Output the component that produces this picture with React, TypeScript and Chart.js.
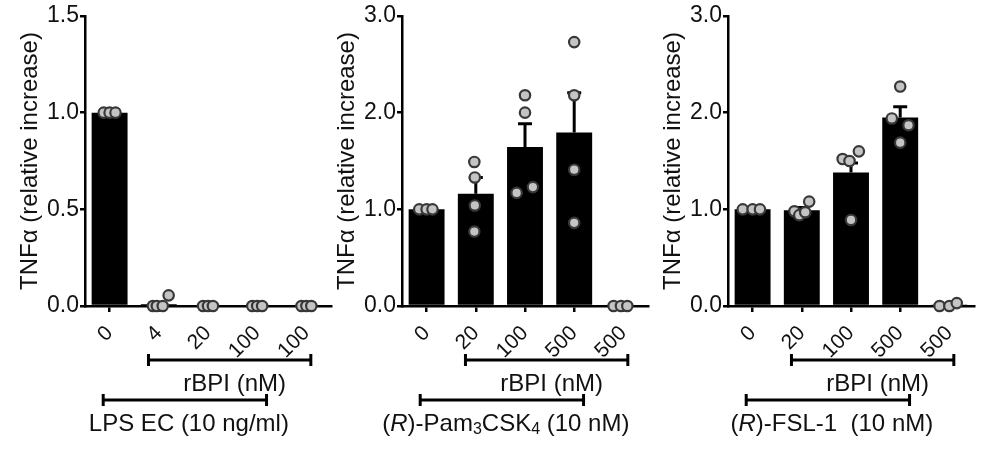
import React, { useEffect, useRef } from 'react';
import { Chart, registerables } from 'chart.js';

Chart.register(...registerables);

const FONT = "'Liberation Sans', Arial, Helvetica, sans-serif";
const TEXT = '#111111';

// ---------- data ----------
const p1Categories = ['0', '4', '20', '100', '100'];
const p1Means = [1.0, 0.01, 0, 0, 0];
const p1Sem = [0, 0, 0, 0, 0];
const p1Points = [[1.0, 1.0, 1.0], [0, 0, 0, 0.055], [0, 0, 0], [0, 0, 0], [0, 0, 0]];
const p1Jitter = [[-0.12, 0, 0.12], [-0.12, -0.04, 0.08, 0.2], [-0.1, 0, 0.1], [-0.1, 0, 0.1], [-0.1, 0, 0.1]];
const p1YTicks = [0, 0.5, 1.0, 1.5];

const p2Categories = ['0', '20', '100', '500', '500'];
const p2Means = [1.0, 1.16, 1.645, 1.795, 0];
const p2Sem = [0, 0.17, 0.24, 0.41, 0];
const p2Points = [[1, 1, 1], [1.49, 1.33, 1.04, 0.77], [2.18, 2.0, 1.17, 1.23], [2.73, 2.18, 1.41, 0.86], [0, 0, 0]];
const p2Jitter = [[-0.15, 0, 0.12], [-0.03, -0.02, -0.02, -0.03], [0, 0, -0.17, 0.16], [0, 0, 0, 0], [-0.2, -0.05, 0.08]];
const p2YTicks = [0, 1.0, 2.0, 3.0];

const p3Categories = ['0', '20', '100', '500', '500'];
const p3Means = [1.0, 0.99, 1.38, 1.95, 0.01];
const p3Sem = [0, 0.03, 0.1, 0.11, 0];
const p3Points = [[1, 1, 1], [0.98, 0.94, 0.97, 1.08], [1.52, 1.5, 1.6, 0.89], [2.27, 1.94, 1.87, 1.69], [0, 0, 0.03]];
const p3Jitter = [[-0.2, 0, 0.15], [-0.15, -0.05, 0.07, 0.15], [-0.17, -0.03, 0.16, 0], [0, -0.17, 0.17, 0], [-0.2, 0, 0.15]];
const p3YTicks = [0, 1.0, 2.0, 3.0];

const yTitle = 'TNFα (relative increase)';
const rbpiLabel = 'rBPI (nM)';
// category spans covered by the treatment brackets
const rbpiSpan = [0.79, 4.09];
const stimSpan = [-0.13, 3.19];

type Seg = { t: string; italic?: boolean; sub?: boolean };
const stim1: Seg[] = [{ t: 'LPS EC (10 ng/ml)' }];
const stim2: Seg[] = [{ t: '(' }, { t: 'R', italic: true }, { t: ')-Pam' }, { t: '3', sub: true }, { t: 'CSK' }, { t: '4', sub: true }, { t: ' (10 nM)' }];
const stim3: Seg[] = [{ t: '(' }, { t: 'R', italic: true }, { t: ')-FSL-1  (10 nM)' }];

interface Panel {
  categories: string[];
  means: number[];
  sem: number[];
  points: number[][];
  jitter: number[][];
  yTicks: number[];
  stim: Seg[];
  left: number;
}

const panels: Panel[] = [
  { categories: p1Categories, means: p1Means, sem: p1Sem, points: p1Points, jitter: p1Jitter, yTicks: p1YTicks, stim: stim1, left: 0 },
  { categories: p2Categories, means: p2Means, sem: p2Sem, points: p2Points, jitter: p2Jitter, yTicks: p2YTicks, stim: stim2, left: 317 },
  { categories: p3Categories, means: p3Means, sem: p3Sem, points: p3Points, jitter: p3Jitter, yTicks: p3YTicks, stim: stim3, left: 643 },
];

const CW = 341;
const CH = 476;
const LABEL_SIZE = 24;

function segFont(s: Seg) {
  const size = s.sub ? Math.round(LABEL_SIZE * 0.66) : LABEL_SIZE;
  return `${s.italic ? 'italic ' : ''}${size}px ${FONT}`;
}

function drawRich(ctx: CanvasRenderingContext2D, segs: Seg[], cx: number, cy: number) {
  let total = 0;
  for (const s of segs) {
    ctx.font = segFont(s);
    total += ctx.measureText(s.t).width;
  }
  let x = cx - total / 2;
  ctx.textBaseline = 'middle';
  ctx.textAlign = 'left';
  for (const s of segs) {
    ctx.font = segFont(s);
    ctx.fillText(s.t, x, cy + (s.sub ? 6 : 0));
    x += ctx.measureText(s.t).width;
  }
}

function makePlugin(p: Panel) {
  return {
    id: 'panelAnnot',
    afterDatasetDraw(chart: any, args: any) {
      if (args.index !== 0) return;
      const y = chart.scales.y;
      const ctx: CanvasRenderingContext2D = chart.ctx;
      ctx.save();
      ctx.strokeStyle = '#000';
      ctx.lineWidth = 3;
      args.meta.data.forEach((el: any, i: number) => {
        const s = p.sem[i];
        if (!s) return;
        const x = el.x;
        const y0 = y.getPixelForValue(p.means[i]);
        const y1 = y.getPixelForValue(p.means[i] + s);
        ctx.beginPath();
        ctx.moveTo(x, y0);
        ctx.lineTo(x, y1);
        ctx.moveTo(x - 7, y1);
        ctx.lineTo(x + 7, y1);
        ctx.stroke();
      });
      ctx.restore();
    },
    afterDraw(chart: any) {
      const xs = chart.scales.xs;
      const bottom = chart.chartArea.bottom;
      const ctx: CanvasRenderingContext2D = chart.ctx;
      ctx.save();
      ctx.strokeStyle = '#000';
      ctx.fillStyle = TEXT;
      ctx.lineWidth = 3;
      const bracket = (span: number[], yy: number) => {
        const x0 = xs.getPixelForValue(span[0]);
        const x1 = xs.getPixelForValue(span[1]);
        ctx.beginPath();
        ctx.moveTo(x0, yy);
        ctx.lineTo(x1, yy);
        ctx.moveTo(x0, yy - 6);
        ctx.lineTo(x0, yy + 6);
        ctx.moveTo(x1, yy - 6);
        ctx.lineTo(x1, yy + 6);
        ctx.stroke();
        return (x0 + x1) / 2;
      };
      const c1 = bracket(rbpiSpan, bottom + 54);
      drawRich(ctx, [{ t: rbpiLabel }], c1 + 5, bottom + 78);
      const c2 = bracket(stimSpan, bottom + 94);
      drawRich(ctx, p.stim, c2 + 4, bottom + 118);
      ctx.restore();
    },
  };
}

function PanelChart({ p }: { p: Panel }) {
  const ref = useRef<HTMLCanvasElement | null>(null);
  useEffect(() => {
    if (!ref.current) return;
    const yMax = p.yTicks[p.yTicks.length - 1];
    const step = p.yTicks[1] - p.yTicks[0];
    const scatter: { x: number; y: number }[] = [];
    p.points.forEach((grp, i) => grp.forEach((v, j) => scatter.push({ x: i + p.jitter[i][j], y: v })));
    const chart = new Chart(ref.current, {
      type: 'bar',
      data: {
        labels: p.categories,
        datasets: [
          {
            type: 'bar',
            data: p.means,
            backgroundColor: '#000',
            borderWidth: 0,
            barPercentage: 0.73,
            categoryPercentage: 1,
            grouped: false,
            order: 2,
            xAxisID: 'x',
            yAxisID: 'y',
          } as any,
          {
            type: 'scatter',
            data: scatter,
            xAxisID: 'xs',
            yAxisID: 'y',
            pointRadius: 5.2,
            pointBackgroundColor: '#c4c4c4',
            pointBorderColor: '#383838',
            pointBorderWidth: 2.2,
            showLine: false,
            clip: false,
            order: 1,
          } as any,
        ],
      },
      options: {
        animation: false,
        responsive: false,
        events: [],
        layout: { padding: { top: 16, right: 10, left: 0, bottom: 0 } },
        plugins: { legend: { display: false }, tooltip: { enabled: false } },
        scales: {
          x: {
            type: 'category',
            offset: true,
            grid: { offset: false, display: true, drawOnChartArea: false, drawTicks: true, tickLength: 6, color: '#000', lineWidth: 2.5 },
            border: { display: true, color: '#000', width: 2.5 },
            ticks: { minRotation: 45, maxRotation: 45, autoSkip: false, font: { size: 21, family: FONT }, color: TEXT, padding: 9 },
            afterFit: (s: any) => { s.height = 170; },
          },
          xs: {
            type: 'linear',
            display: false,
            offset: false,
            grid: { offset: false },
            min: -0.5,
            max: 4.5,
          },
          y: {
            type: 'linear',
            min: 0,
            max: yMax,
            ticks: {
              stepSize: step,
              callback: (v: any) => Number(v).toFixed(1),
              font: { size: 23, family: FONT },
              color: TEXT,
              padding: 1,
            },
            grid: { display: true, drawOnChartArea: false, drawTicks: true, tickLength: 5, color: '#000', lineWidth: 2.5 },
            border: { display: true, color: '#000', width: 2.5 },
            title: { display: true, text: yTitle, font: { size: 24, family: FONT }, color: TEXT, padding: { top: 16, bottom: 0 } },
            afterFit: (s: any) => { s.width = 85; },
          },
        } as any,
      },
      plugins: [makePlugin(p) as any],
    });
    return () => chart.destroy();
  }, [p]);
  return (
    <canvas
      ref={ref}
      width={CW}
      height={CH}
      style={{ position: 'absolute', left: p.left, top: 0, width: CW, height: CH, display: 'block' }}
    />
  );
}

export default function App() {
  return (
    <div style={{ position: 'absolute', left: 0, top: 0, width: 986, height: 476, background: '#fff', overflow: 'hidden' }}>
      {panels.map((p, i) => (
        <PanelChart key={i} p={p} />
      ))}
    </div>
  );
}
